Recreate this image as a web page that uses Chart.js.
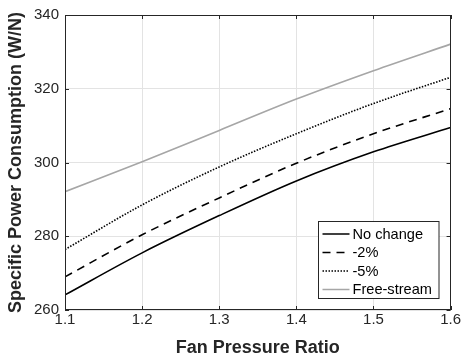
<!DOCTYPE html>
<html>
<head>
<meta charset="utf-8">
<script src="https://cdn.jsdelivr.net/npm/chart.js@4.4.1/dist/chart.umd.min.js"></script>
<style>
  html, body { margin: 0; padding: 0; background: #ffffff; }
  #wrap { width: 462px; height: 362px; }
</style>
</head>
<body>
<div id="wrap"><canvas id="c" width="462" height="362"></canvas></div>
<script>
// ---- data ----
const fanPressureRatio = [1.1, 1.2, 1.3, 1.4, 1.5, 1.6];
const noChange   = [264.1, 275.5, 285.6, 295.0, 302.9, 309.5];
const minus2     = [269.0, 280.4, 290.4, 299.8, 307.8, 314.6];
const minus5     = [276.4, 288.5, 298.8, 307.8, 316.0, 323.1];
const freeStream = [292.1, 300.2, 308.7, 317.2, 324.9, 332.1];
const seriesNames = ['No change', '-2%', '-5%', 'Free-stream'];
const xTicks = [1.1, 1.2, 1.3, 1.4, 1.5, 1.6];
const yTicks = [260, 280, 300, 320, 340];

const AX = '#262626';
const FONT = "'Liberation Sans', Arial, Helvetica, sans-serif";

function pts(ys) { return fanPressureRatio.map((x, i) => ({ x: x, y: ys[i] })); }

const styles = [
  { color: '#000000', dash: [] },
  { color: '#000000', dash: [8, 6] },
  { color: '#000000', dash: [1.5, 1.5] },
  { color: '#a6a6a6', dash: [] }
];
const allSeries = [noChange, minus2, minus5, freeStream];

const datasets = allSeries.map((s, i) => ({
  label: seriesNames[i],
  data: pts(s),
  borderColor: styles[i].color,
  borderDash: styles[i].dash,
  borderWidth: 1.6,
  pointRadius: 0,
  fill: false,
  cubicInterpolationMode: 'monotone'
}));

const boxAndTicks = {
  id: 'boxAndTicks',
  afterDatasetsDraw(chart) {
    const { ctx, chartArea: a, scales } = chart;
    ctx.save();
    ctx.strokeStyle = AX;
    ctx.lineWidth = 1;
    ctx.setLineDash([]);
    ctx.strokeRect(Math.round(a.left) + 0.5, Math.round(a.top) + 0.5,
                   Math.round(a.right - a.left) - 1, Math.round(a.bottom - a.top) - 1);
    const tl = 4;
    ctx.beginPath();
    xTicks.forEach(v => {
      const x = Math.round(scales.x.getPixelForValue(v)) + 0.5;
      ctx.moveTo(x, a.bottom); ctx.lineTo(x, a.bottom - tl);
      ctx.moveTo(x, a.top); ctx.lineTo(x, a.top + tl);
    });
    yTicks.forEach(v => {
      const y = Math.round(scales.y.getPixelForValue(v)) + 0.5;
      ctx.moveTo(a.left, y); ctx.lineTo(a.left + tl, y);
      ctx.moveTo(a.right, y); ctx.lineTo(a.right - tl, y);
    });
    ctx.stroke();

    // legend box inside the plot (bottom-right)
    const w = 120.5, h = 77;
    const bx = Math.round(a.right - 12 - w) + 0.5;
    const by = Math.round(a.bottom - 12 - h) + 0.5;
    ctx.fillStyle = '#ffffff';
    ctx.fillRect(bx, by, w, h);
    ctx.strokeStyle = AX;
    ctx.lineWidth = 1;
    ctx.strokeRect(bx, by, w, h);
    ctx.font = '14.6px ' + FONT;
    ctx.textBaseline = 'middle';
    ctx.textAlign = 'left';
    chart.data.datasets.forEach((ds, i) => {
      const cy = by + 12.5 + i * 18.5;
      ctx.beginPath();
      ctx.strokeStyle = ds.borderColor;
      ctx.lineWidth = 1.5;
      ctx.setLineDash(ds.borderDash || []);
      ctx.moveTo(bx + 4, cy); ctx.lineTo(bx + 31, cy);
      ctx.stroke();
      ctx.setLineDash([]);
      ctx.fillStyle = '#000000';
      ctx.fillText(ds.label, bx + 34, cy + 0.5);
    });
    ctx.restore();
  }
};

new Chart(document.getElementById('c'), {
  type: 'line',
  data: { datasets: datasets },
  options: {
    responsive: false,
    animation: false,
    devicePixelRatio: 1,
    layout: { padding: { top: 14, right: 11, left: 0, bottom: 0 } },
    plugins: { legend: { display: false }, tooltip: { enabled: false } },
    scales: {
      x: {
        type: 'linear',
        min: 1.1, max: 1.6,
        afterBuildTicks(s) { s.ticks = xTicks.map(v => ({ value: v })); },
        afterFit(s) { s.height = 52; },
        ticks: {
          color: AX, padding: 1,
          font: { family: FONT, size: 15 },
          callback: v => Number(v).toFixed(1)
        },
        grid: { color: '#e3e3e3', lineWidth: 1, drawTicks: false },
        border: { display: false },
        title: {
          display: true, text: 'Fan Pressure Ratio', color: AX,
          font: { family: FONT, size: 18, weight: 'bold' },
          padding: { top: 0, bottom: 3 }
        }
      },
      y: {
        type: 'linear',
        min: 260, max: 340,
        afterBuildTicks(s) { s.ticks = yTicks.map(v => ({ value: v })); },
        afterFit(s) { s.width = 65; },
        ticks: {
          color: AX, padding: 6,
          font: { family: FONT, size: 15 },
          callback: v => String(v)
        },
        grid: { color: '#e3e3e3', lineWidth: 1, drawTicks: false },
        border: { display: false },
        title: {
          display: true, text: 'Specific Power Consumption (W/N)', color: AX,
          font: { family: FONT, size: 18, weight: 'bold' },
          padding: { top: 5, bottom: 0 }
        }
      }
    }
  },
  plugins: [boxAndTicks]
});
</script>
</body>
</html>
